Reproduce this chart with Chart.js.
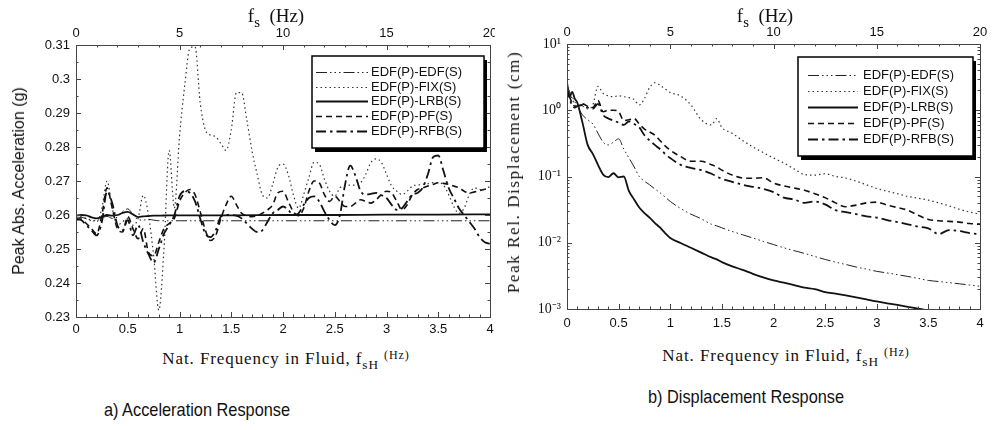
<!DOCTYPE html>
<html>
<head>
<meta charset="utf-8">
<script src="https://cdn.jsdelivr.net/npm/chart.js@4.4.0/dist/chart.umd.min.js"></script>
<style>
body { margin:0; background:#fff; width:995px; height:430px; position:relative; overflow:hidden; }
.box { position:absolute; }
.ttl { position:absolute; transform:translate(-50%,-50%); white-space:nowrap; color:#111; }
.serif { font-family:"Liberation Serif","DejaVu Serif",serif; }
.sans { font-family:"Liberation Sans",Arial,sans-serif; }
.narrow { font-family:"Liberation Sans",Arial,sans-serif; transform:translate(-50%,-50%) scaleX(0.86); }
sub { font-size:78%; vertical-align:-5px; line-height:0; }
.hz { font-size:12px; vertical-align:5px; }
.rot { transform:translate(-50%,-50%) rotate(-90deg); }
</style>
</head>
<body>
<div class="box" style="left:0;top:0;width:495px;height:340px"><canvas id="accChart"></canvas></div>
<div class="box" style="left:495px;top:0;width:500px;height:335px"><canvas id="dispChart"></canvas></div>

<div class="ttl serif" style="left:276px;top:16px;font-size:19px">f<sub>s</sub>&nbsp;&nbsp;(Hz)</div>
<div class="ttl serif" style="left:765px;top:16px;font-size:19px">f<sub>s</sub>&nbsp;&nbsp;(Hz)</div>

<div class="ttl sans rot" style="left:19px;top:181px;font-size:16px">Peak Abs. Acceleration (g)</div>
<div class="ttl serif rot" style="left:514px;top:172px;font-size:17px;letter-spacing:1.6px">Peak Rel. Displacement (cm)</div>

<div class="ttl serif" style="left:286px;top:358px;font-size:17px;letter-spacing:0.9px">Nat. Frequency in Fluid, f<sub>sH</sub> <span class="hz">(Hz)</span></div>
<div class="ttl serif" style="left:786px;top:355px;font-size:17px;letter-spacing:0.9px">Nat. Frequency in Fluid, f<sub>sH</sub> <span class="hz">(Hz)</span></div>

<div class="ttl narrow" style="left:197px;top:410px;font-size:19px">a) Acceleration Response</div>
<div class="ttl narrow" style="left:746px;top:397px;font-size:19px">b) Displacement Response</div>

<script>
// a) acceleration response, x = f_sH (Hz)
const accFreq = [0,0.05,0.1,0.15,0.2,0.25,0.3,0.35,0.4,0.45,0.5,0.55,0.6,0.65,0.7,0.75,0.8,0.85,0.9,0.95,
    1,1.05,1.1,1.15,1.2,1.25,1.3,1.35,1.4,1.45,1.5,1.55,1.6,1.65,1.7,1.75,1.8,1.85,1.9,1.95,
    2,2.05,2.1,2.15,2.2,2.25,2.3,2.35,2.4,2.45,2.5,2.55,2.6,2.65,2.7,2.75,2.8,2.85,2.9,2.95,
    3,3.05,3.1,3.15,3.2,3.25,3.3,3.35,3.4,3.45,3.5,3.55,3.6,3.65,3.7,3.75,3.8,3.85,3.9,3.95,4];
const accFreqFlat = [0,0.05,0.1,0.15,0.2,0.25,0.3,0.35,0.4,0.45,0.5,0.55,0.6,0.65,0.7,0.75,0.8,0.9,1,1.5,2,2.5,3,3.5,4];

const accEdf = [0.2590,0.2593,0.2589,0.2583,0.2586,0.2591,0.2596,0.2590,0.2594,0.2610,0.2618,0.2602,0.2586,
    0.2585,0.2587,0.2585,0.2583,0.2583,0.2583,0.2583,0.2583,0.2583,0.2583,0.2583,0.2583];
const accLrb = [0.2598,0.2600,0.2599,0.2593,0.2590,0.2594,0.2600,0.2598,0.2600,0.2606,0.2609,0.2602,0.2594,
    0.2596,0.2597,0.2598,0.2598,0.2599,0.2599,0.2599,0.2600,0.2600,0.2601,0.2601,0.2602];
const accFix = [0.2590,0.2595,0.2590,0.2585,0.2580,0.2620,0.2700,0.2620,0.2570,0.2580,0.2590,0.2570,0.2590,0.2658,0.2600,0.2480,0.2320,0.2500,0.2790,0.2620,
    0.2830,0.2980,0.3090,0.3095,0.2930,0.2850,0.2835,0.2830,0.2810,0.2790,0.2850,0.2960,0.2960,0.2880,0.2790,0.2720,0.2660,0.2650,0.2690,0.2740,
    0.2750,0.2720,0.2660,0.2620,0.2660,0.2710,0.2755,0.2750,0.2705,0.2670,0.2655,0.2680,0.2685,0.2688,0.2688,0.2695,0.2720,0.2755,0.2765,0.2755,
    0.2720,0.2685,0.2670,0.2660,0.2670,0.2685,0.2688,0.2690,0.2692,0.2695,0.2695,0.2688,0.2660,0.2625,0.2605,0.2620,0.2660,0.2680,0.2675,0.2675,0.2685];
const accPf = [0.2585,0.2588,0.2575,0.2560,0.2545,0.2600,0.2680,0.2620,0.2560,0.2550,0.2595,0.2560,0.2530,0.2560,0.2490,0.2480,0.2520,0.2560,0.2575,0.2590,
    0.2640,0.2665,0.2675,0.2660,0.2610,0.2555,0.2525,0.2540,0.2590,0.2630,0.2655,0.2630,0.2605,0.2598,0.2595,0.2598,0.2605,0.2615,0.2630,0.2665,
    0.2670,0.2640,0.2610,0.2598,0.2620,0.2670,0.2700,0.2695,0.2660,0.2640,0.2655,0.2640,0.2625,0.2625,0.2635,0.2645,0.2640,0.2635,0.2645,0.2660,
    0.2670,0.2665,0.2640,0.2615,0.2630,0.2660,0.2675,0.2680,0.2685,0.2690,0.2695,0.2693,0.2690,0.2685,0.2680,0.2670,0.2665,0.2668,0.2672,0.2676,0.2680];
const accRfb = [0.2590,0.2585,0.2570,0.2555,0.2540,0.2580,0.2670,0.2635,0.2570,0.2555,0.2585,0.2540,0.2570,0.2520,0.2485,0.2460,0.2500,0.2545,0.2570,0.2600,
    0.2655,0.2670,0.2665,0.2640,0.2590,0.2545,0.2535,0.2555,0.2595,0.2600,0.2600,0.2598,0.2590,0.2575,0.2560,0.2550,0.2555,0.2580,0.2605,0.2615,
    0.2625,0.2615,0.2600,0.2605,0.2630,0.2650,0.2655,0.2640,0.2610,0.2585,0.2570,0.2600,0.2690,0.2745,0.2715,0.2670,0.2660,0.2662,0.2665,0.2658,
    0.2650,0.2630,0.2615,0.2620,0.2640,0.2660,0.2665,0.2680,0.2720,0.2770,0.2775,0.2730,0.2680,0.2650,0.2620,0.2600,0.2580,0.2560,0.2535,0.2520,0.2515];

// b) displacement response (cm, log axis)
const dispFreq = [0,0.025,0.05,0.075,0.1,0.15,0.2,0.25,0.3,0.35,0.4,0.45,0.5,0.55,0.6,0.65,0.7,0.75,0.8,0.85,0.9,0.95,
    1,1.1,1.2,1.3,1.4,1.45,1.5,1.6,1.7,1.8,1.9,2,2.1,2.2,2.3,2.4,2.5,2.6,2.7,2.8,2.9,3,3.1,3.2,3.3,3.4,3.5,3.6,3.7,3.8,3.9,4];
const dispEdf = [2.4,1.9,1.6,1.35,1.15,0.85,0.72,0.62,0.45,0.33,0.3,0.33,0.37,0.26,0.19,0.14,0.1,0.085,0.075,0.065,0.057,0.049,
    0.042,0.033,0.027,0.023,0.019,0.018,0.0168,0.0148,0.0132,0.0118,0.0105,0.0094,0.0084,0.0076,0.0069,0.0062,0.0056,0.0051,
    0.0047,0.0043,0.004,0.0037,0.0035,0.0033,0.0031,0.0029,0.0027,0.0026,0.0025,0.0024,0.0023,0.0022];
const dispFix = [2.5,1.8,1.5,1.2,1.1,1.15,1.05,1.2,2.3,1.8,1.65,1.6,1.65,1.6,1.55,1.45,1.2,1.5,2.2,2.6,2.4,2.1,
    1.85,1.65,1.2,0.72,0.6,0.75,0.55,0.45,0.35,0.28,0.23,0.19,0.16,0.13,0.107,0.105,0.11,0.1,
    0.095,0.085,0.075,0.066,0.06,0.055,0.05,0.047,0.044,0.04,0.036,0.032,0.029,0.027];
const dispLrb = [2.6,1.6,1.9,1.5,1.3,0.65,0.3,0.22,0.15,0.107,0.098,0.112,0.097,0.1,0.06,0.045,0.034,0.028,0.024,0.02,0.017,0.014,
    0.0118,0.0099,0.0084,0.0071,0.006,0.0056,0.0051,0.0044,0.0039,0.0034,0.003,0.0027,0.0025,0.0023,0.0021,0.002,0.0018,0.0017,
    0.0016,0.0015,0.0014,0.0013,0.00122,0.00115,0.00108,0.00101,0.00095,0.0009,0.00085,0.0008,0.00076,0.00072];
const dispPf = [2.3,1.6,1.3,1.15,1.15,1.25,1.15,1.1,1.4,0.95,1.0,1.0,0.95,0.7,0.72,0.75,0.62,0.52,0.47,0.42,0.35,0.29,
    0.25,0.2,0.17,0.17,0.15,0.14,0.125,0.105,0.095,0.094,0.096,0.08,0.072,0.067,0.062,0.055,0.048,0.04,
    0.035,0.037,0.04,0.041,0.037,0.034,0.031,0.026,0.0225,0.0215,0.021,0.0205,0.0195,0.019];
const dispRfb = [2.2,1.5,1.2,1.1,1.15,1.2,1.1,1.05,1.25,0.85,0.75,0.7,0.65,0.6,0.68,0.62,0.55,0.42,0.35,0.3,0.26,0.22,
    0.19,0.15,0.135,0.125,0.11,0.1,0.092,0.083,0.075,0.07,0.065,0.058,0.048,0.045,0.04,0.042,0.038,0.031,
    0.029,0.027,0.025,0.024,0.022,0.0205,0.019,0.0175,0.0165,0.0135,0.0155,0.015,0.014,0.0135];
const dispTickLabels = ['10\u207B\u00B3','10\u207B\u00B2','10\u207B\u00B9','10\u2070','10\u00B9'];  // 1e-3 .. 1e1

const seriesLabels = ['EDF(P)-EDF(S)', 'EDF(P)-FIX(S)', 'EDF(P)-LRB(S)', 'EDF(P)-PF(S)', 'EDF(P)-RFB(S)'];

Chart.defaults.font.family = '"Liberation Sans", Arial, sans-serif';
Chart.defaults.font.size = 13;
Chart.defaults.color = '#111';

function pts(xs, ys) {
    return xs.map((x, i) => ({ x: x, y: ys[i] }));
}

// plain labels: 0.31, 0.3, 1, 1.5 (no padded zeros)
function plain(v) {
    return String(+v.toFixed(3));
}

function makeSets(xsList, ysList) {
    const styles = [
        { borderWidth: 1, borderDash: [11, 3, 1.5, 3, 1.5, 3, 1.5, 3], borderColor: '#222' },
        { borderWidth: 1.2, borderDash: [1.5, 3], borderColor: '#333' },
        { borderWidth: 1.8, borderDash: [], borderColor: '#111' },
        { borderWidth: 1.6, borderDash: [6, 4], borderColor: '#111' },
        { borderWidth: 1.8, borderDash: [10, 4, 2.5, 4], borderColor: '#111' }
    ];
    return ysList.map((ys, i) => Object.assign({
        label: seriesLabels[i],
        data: pts(xsList[i], ys),
        pointRadius: 0,
        fill: false,
        cubicInterpolationMode: 'monotone'
    }, styles[i]));
}

// inward tick marks + frame
const frameTicks = {
    id: 'frameTicks',
    afterDatasetsDraw(chart, args, o) {
        const { ctx, chartArea: a, scales } = chart;
        ctx.save();
        ctx.strokeStyle = '#444';
        ctx.lineWidth = 1;
        ctx.strokeRect(a.left + 0.5, a.top + 0.5, a.right - a.left, a.bottom - a.top);
        function mark(scale, vals, side, len) {
            ctx.beginPath();
            vals.forEach(v => {
                const p = Math.round(scale.getPixelForValue(v)) + 0.5;
                if (side === 'bottom') { ctx.moveTo(p, a.bottom); ctx.lineTo(p, a.bottom - len); }
                if (side === 'top') { ctx.moveTo(p, a.top); ctx.lineTo(p, a.top + len); }
                if (side === 'left') { ctx.moveTo(a.left, p); ctx.lineTo(a.left + len, p); }
                if (side === 'right') { ctx.moveTo(a.right, p); ctx.lineTo(a.right - len, p); }
            });
            ctx.stroke();
        }
        function steps(min, max, st) {
            const out = [];
            for (let v = min; v <= max + 1e-9; v += st) out.push(v);
            return out;
        }
        const x = scales.x, xt = scales.xTop, y = scales.y;
        mark(x, steps(x.min, x.max, o.xMajor), 'bottom', 5);
        mark(x, steps(x.min, x.max, o.xMinor), 'bottom', 2.5);
        mark(xt, steps(xt.min, xt.max, 5), 'top', 5);
        mark(xt, steps(xt.min, xt.max, 1), 'top', 2.5);
        if (o.log) {
            const maj = [], min = [];
            for (let e = -3; e <= 1; e++) {
                maj.push(Math.pow(10, e));
                if (e < 1) for (let k = 2; k < 10; k++) min.push(k * Math.pow(10, e));
            }
            ['left', 'right'].forEach(s => { mark(y, maj, s, 5); mark(y, min, s, 2.5); });
        } else {
            ['left', 'right'].forEach(s => {
                mark(y, steps(y.min, y.max, o.yMajor), s, 5);
                mark(y, steps(y.min, y.max, o.yMajor / 2), s, 2.5);
            });
        }
        ctx.restore();
    }
};

// legend box with drop shadow inside the plot
const boxLegend = {
    id: 'boxLegend',
    afterDatasetsDraw(chart, args, o) {
        const { ctx, chartArea } = chart;
        const x = chartArea.left + o.dx, y = chartArea.top + o.dy;
        ctx.save();
        ctx.fillStyle = '#000';
        ctx.fillRect(x + 3, y + 4, o.w, o.h);
        ctx.fillStyle = '#fff';
        ctx.fillRect(x, y, o.w, o.h);
        ctx.lineWidth = 1.5;
        ctx.strokeStyle = '#000';
        ctx.strokeRect(x, y, o.w, o.h);
        ctx.font = '13px "Liberation Sans", Arial, sans-serif';
        ctx.textBaseline = 'middle';
        chart.data.datasets.forEach((ds, i) => {
            const ly = Math.round(y + o.first + i * o.gap) + 0.5;
            ctx.beginPath();
            ctx.setLineDash(ds.borderDash);
            ctx.lineWidth = ds.borderWidth;
            ctx.strokeStyle = ds.borderColor;
            ctx.moveTo(x + o.lineX, ly);
            ctx.lineTo(x + o.lineX + o.lineLen, ly);
            ctx.stroke();
            ctx.setLineDash([]);
            ctx.fillStyle = '#111';
            ctx.fillText(ds.label, x + o.textX, ly);
        });
        ctx.restore();
    }
};

function noPad(s) {
    s.paddingLeft = 0; s.paddingRight = 0; s.paddingTop = 0; s.paddingBottom = 0;
}

const accCtx = document.getElementById('accChart').getContext('2d');
const accChart = new Chart(accCtx, {
    type: 'line',
    data: {
        datasets: makeSets([accFreqFlat, accFreq, accFreqFlat, accFreq, accFreq], [accEdf, accFix, accLrb, accPf, accRfb])
    },
    options: {
        responsive: true,
        maintainAspectRatio: false,
        animation: false,
        layout: { padding: { right: 5 } },
        scales: {
            x: {
                type: 'linear', position: 'bottom', min: 0, max: 4,
                ticks: { stepSize: 0.5, padding: 5, maxRotation: 0, callback: plain },
                grid: { display: false, drawTicks: false }, border: { display: false },
                afterFit: s => { s.height = 23; noPad(s); }
            },
            xTop: {
                type: 'linear', position: 'top', min: 0, max: 20,
                ticks: { stepSize: 5, padding: 4, maxRotation: 0, callback: plain },
                grid: { display: false, drawTicks: false }, border: { display: false },
                afterFit: s => { s.height = 45; noPad(s); }
            },
            y: {
                min: 0.23, max: 0.31,
                ticks: { stepSize: 0.01, padding: 6, callback: plain },
                grid: { display: false, drawTicks: false }, border: { display: false },
                afterFit: s => { s.width = 76; noPad(s); }
            }
        },
        plugins: {
            legend: { display: false },
            tooltip: { enabled: false },
            frameTicks: { xMajor: 0.5, xMinor: 0.1, yMajor: 0.01, log: false },
            boxLegend: { dx: 236, dy: 11, w: 172, h: 92, first: 16, gap: 14.7, lineX: 4, lineLen: 52, textX: 59 }
        }
    },
    plugins: [frameTicks, boxLegend]
});

const dispCtx = document.getElementById('dispChart').getContext('2d');
const dispChart = new Chart(dispCtx, {
    type: 'line',
    data: {
        datasets: makeSets([dispFreq, dispFreq, dispFreq, dispFreq, dispFreq], [dispEdf, dispFix, dispLrb, dispPf, dispRfb])
    },
    options: {
        responsive: true,
        maintainAspectRatio: false,
        animation: false,
        layout: { padding: { right: 15 } },
        scales: {
            x: {
                type: 'linear', position: 'bottom', min: 0, max: 4,
                ticks: { stepSize: 0.5, padding: 7, maxRotation: 0, callback: plain },
                grid: { display: false, drawTicks: false }, border: { display: false },
                afterFit: s => { s.height = 26; noPad(s); }
            },
            xTop: {
                type: 'linear', position: 'top', min: 0, max: 20,
                ticks: { stepSize: 5, padding: 4, maxRotation: 0, callback: plain },
                grid: { display: false, drawTicks: false }, border: { display: false },
                afterFit: s => { s.height = 44; noPad(s); }
            },
            y: {
                type: 'logarithmic', min: 0.001, max: 10,
                ticks: {
                    autoSkip: false, padding: 6,
                    font: { family: '"Liberation Serif", serif', size: 14 },
                    callback: function (v) {
                        const e = Math.log10(v);
                        if (Math.abs(e - Math.round(e)) > 1e-6) return '';
                        return dispTickLabels[Math.round(e) + 3];
                    }
                },
                grid: { display: false, drawTicks: false }, border: { display: false },
                afterFit: s => { s.width = 72; noPad(s); }
            }
        },
        plugins: {
            legend: { display: false },
            tooltip: { enabled: false },
            frameTicks: { xMajor: 0.5, xMinor: 0.1, log: true },
            boxLegend: { dx: 231, dy: 13, w: 175, h: 99, first: 18, gap: 16, lineX: 10, lineLen: 50, textX: 65 }
        }
    },
    plugins: [frameTicks, boxLegend]
});
</script>
</body>
</html>
